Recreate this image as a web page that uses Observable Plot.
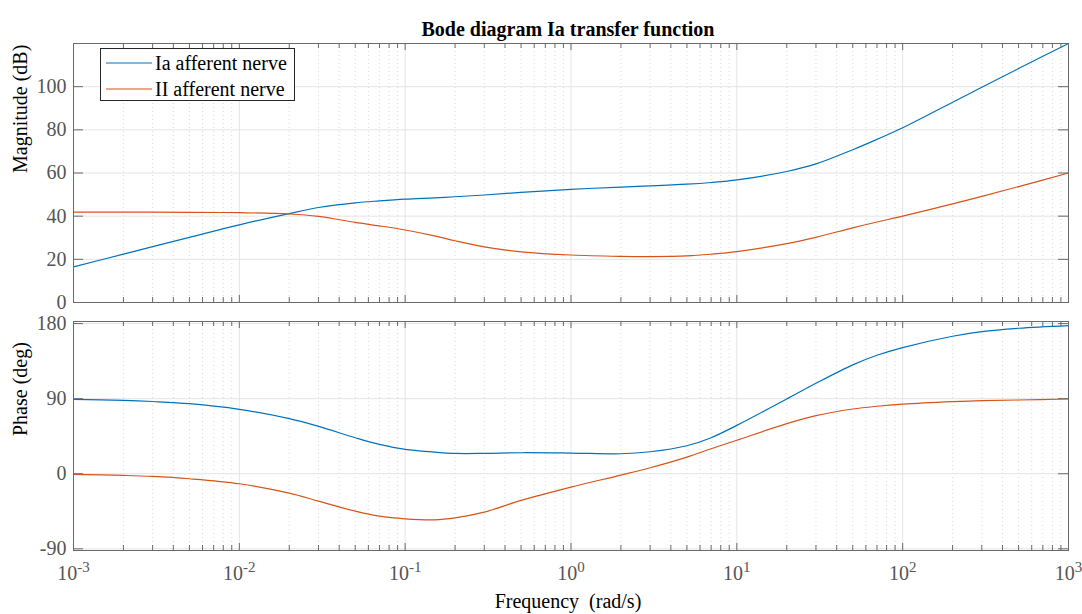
<!DOCTYPE html>
<html>
<head>
<meta charset="utf-8">
<script src="https://cdn.jsdelivr.net/npm/d3@7"></script>
<script src="https://cdn.jsdelivr.net/npm/@observablehq/plot@0.6"></script>
<style>
  body { margin: 0; background: white; }
  #chart { position: relative; width: 1082px; height: 614px; overflow: hidden; background: white; }
  #chart svg { position: absolute; display: block; }
  #chart svg, #chart svg text, #chart svg g { font-family: 'Liberation Serif', 'Times New Roman', Times, serif !important; }
</style>
</head>
<body>
<div id="chart"></div>
<script>
// ---- data ----
const freq = [1e-3, 2e-3, 3e-3, 5e-3, 1e-2, 2e-2, 3e-2, 5e-2, 7e-2, 0.1, 0.15, 0.2, 0.3, 0.5, 1, 2, 3, 5, 7, 10, 20, 30, 50, 70, 100, 200, 300, 500, 1000];
const magIa   = [16.5, 22.4, 25.9, 30.2, 36.0, 41.2, 44.0, 46.2, 47.1, 47.9, 48.5, 49.0, 49.8, 51.0, 52.4, 53.5, 54.0, 54.8, 55.6, 56.8, 60.7, 64.2, 70.8, 75.6, 81.0, 92.8, 99.7, 108.4, 120.0];
const magII   = [41.9, 41.9, 41.9, 41.8, 41.6, 41.0, 39.9, 37.1, 35.5, 33.6, 30.9, 28.6, 25.8, 23.5, 22.0, 21.4, 21.3, 21.6, 22.4, 23.6, 27.3, 30.2, 34.6, 37.3, 40.0, 45.7, 49.2, 53.7, 60.0];
const phaseIa = [89.2, 88.0, 86.6, 84.0, 77.2, 66.0, 56.8, 43.2, 35.2, 29.2, 26.0, 24.4, 24.4, 25.2, 24.8, 24.0, 26.4, 33.6, 43.2, 58.0, 89.6, 108.4, 130.5, 142.0, 151.2, 164.8, 170.4, 174.4, 177.6];
const phaseII = [-0.8, -2.0, -3.2, -6.0, -12.0, -23.2, -32.8, -44.8, -50.8, -54.0, -55.2, -52.8, -46.0, -32.0, -16.0, -1.6, 7.2, 20.0, 30.0, 40.2, 60.0, 69.6, 77.6, 80.9, 83.4, 86.4, 87.6, 88.4, 89.6];
const seriesNames = ["Ia afferent nerve", "II afferent nerve"];
const seriesColors = ["#0072BD", "#D95319"];
const magTicks = [0, 20, 40, 60, 80, 100];
const phaseTicks = [-90, 0, 90, 180];
const decades = [1e-3, 1e-2, 1e-1, 1, 1e1, 1e2, 1e3];
const titleText = "Bode diagram Ia transfer function";
const magLabel = "Magnitude (dB)";
const phaseLabel = "Phase (deg)";
const freqLabel = "Frequency  (rad/s)";

// ---- helpers ----
const minorX = decades.slice(0, -1).flatMap(d => [2, 3, 4, 5, 6, 7, 8, 9].map(k => k * d));
const magRows = freq.flatMap((f, i) => [
  {f, v: magIa[i], s: seriesNames[0]},
  {f, v: magII[i], s: seriesNames[1]}
]);
const phaseRows = freq.flatMap((f, i) => [
  {f, v: phaseIa[i], s: seriesNames[0]},
  {f, v: phaseII[i], s: seriesNames[1]}
]);

const W = 1082, ML = 73, MR = 14;
const innerW = W - ML - MR;
const font = "'Liberation Serif', 'Times New Roman', Times, serif";
const frameColor = "#6a6a6a";
const tickLabelColor = "#555555";
const gridColor = "#e4e4e4";
const minorGridColor = "#d8d8d8";

function panelMarks(rows, yTicks, innerH) {
  return [
    Plot.ruleX(minorX, {stroke: minorGridColor, strokeDasharray: "1,3"}),
    Plot.ruleX(decades, {stroke: gridColor}),
    Plot.ruleY(yTicks, {stroke: gridColor}),
    Plot.line(rows, {x: "f", y: "v", z: "s", stroke: "s", strokeWidth: 1.2, curve: "catmull-rom"}),
    // inward ticks
    Plot.tickX(decades, {x: d => d, insetTop: innerH - 7, stroke: frameColor}),
    Plot.tickX(decades, {x: d => d, insetBottom: innerH - 7, stroke: frameColor}),
    Plot.tickX(minorX, {x: d => d, insetTop: innerH - 5, stroke: frameColor}),
    Plot.tickX(minorX, {x: d => d, insetBottom: innerH - 5, stroke: frameColor}),
    Plot.tickY(yTicks, {y: d => d, insetRight: innerW - 10, stroke: frameColor}),
    Plot.tickY(yTicks, {y: d => d, insetLeft: innerW - 10, stroke: frameColor}),
    Plot.frame({stroke: frameColor}),
    Plot.axisY(yTicks, {anchor: "left", tickSize: 0, tickPadding: 7, fill: tickLabelColor, label: null,
      tickFormat: d => String(d), fontSize: 20, fontFamily: font})
  ];
}

const chart = document.getElementById("chart");

// ---- magnitude panel ----
const H1 = 310, MT1 = 43, MB1 = 8;
const p1 = Plot.plot({
  width: W, height: H1, marginLeft: ML, marginRight: MR, marginTop: MT1, marginBottom: MB1,
  x: {type: "log", domain: [1e-3, 1e3], axis: null},
  y: {domain: [0, 120]},
  color: {domain: seriesNames, range: seriesColors},
  style: {fontFamily: font, fontSize: "20px", background: "transparent", overflow: "visible"},
  marks: [
    ...panelMarks(magRows, magTicks, H1 - MT1 - MB1),
    Plot.text([magLabel], {text: d => d, frameAnchor: "left", rotate: -90, dx: -53, fill: "black", fontSize: 20, fontFamily: font}),
    Plot.text([titleText], {text: d => d, frameAnchor: "top", dy: -22, dx: -3, fontWeight: "bold", fill: "black", fontSize: 20, fontFamily: font})
  ]
});
p1.style.top = "0px"; p1.style.left = "0px";
chart.appendChild(p1);

// ---- phase panel ----
const TOP2 = 310, H2 = 304, MT2 = 11, MB2 = 64;
const p2 = Plot.plot({
  width: W, height: H2, marginLeft: ML, marginRight: MR, marginTop: MT2, marginBottom: MB2,
  x: {type: "log", domain: [1e-3, 1e3]},
  y: {domain: [-92, 182.5]},
  color: {domain: seriesNames, range: seriesColors},
  style: {fontFamily: font, fontSize: "20px", background: "transparent", overflow: "visible"},
  marks: [
    ...panelMarks(phaseRows, phaseTicks, H2 - MT2 - MB2),
    Plot.axisX(decades, {anchor: "bottom", tickSize: 0, tickPadding: 15, fill: tickLabelColor, label: null,
      tickFormat: d => "10^" + Math.round(Math.log10(d)), fontSize: 20, fontFamily: font}),
    Plot.text([phaseLabel], {text: d => d, frameAnchor: "left", rotate: -90, dx: -53, fill: "black", fontSize: 20, fontFamily: font}),
    Plot.text([freqLabel], {text: d => d, frameAnchor: "bottom", dy: 51, dx: -3, fill: "black", fontSize: 20, lineAnchor: "middle", fontFamily: font})
  ]
});
p2.style.top = TOP2 + "px"; p2.style.left = "0px";
chart.appendChild(p2);

// superscript exponents on the frequency tick labels
d3.select(p2).selectAll('g[aria-label="x-axis tick label"] text').each(function () {
  const t = this.textContent;
  const [base, exp] = t.split("^");
  const sel = d3.select(this);
  sel.text(null);
  sel.append("tspan").text(base);
  sel.append("tspan").attr("dy", "-0.5em").attr("font-size", "15px").text(exp);
});
// keep double space in x label
d3.select(p2).selectAll("text").style("white-space", "pre");

// ---- legend ----
const lg = d3.select(chart).append("svg")
  .attr("width", 196).attr("height", 54)
  .style("left", "100px").style("top", "48px");
lg.append("rect").attr("x", 0.5).attr("y", 0.5).attr("width", 194).attr("height", 52)
  .attr("fill", "white").attr("stroke", "#262626").attr("stroke-width", 1);
seriesNames.forEach((name, i) => {
  const cy = 15 + i * 26;
  lg.append("line").attr("x1", 6).attr("x2", 52).attr("y1", cy).attr("y2", cy)
    .attr("stroke", seriesColors[i]).attr("stroke-width", 1.2);
  lg.append("text").attr("x", 55).attr("y", cy).attr("dy", "0.35em")
    .attr("font-family", font).attr("font-size", 20).attr("fill", "black").text(name);
});
</script>
</body>
</html>
